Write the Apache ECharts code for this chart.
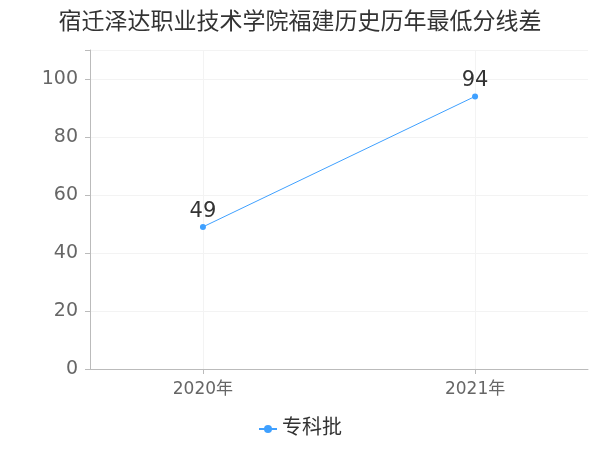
<!DOCTYPE html>
<html><head><meta charset="utf-8">
<script src="https://cdn.jsdelivr.net/npm/echarts@6/dist/echarts.min.js"></script>
<style>html,body{margin:0;padding:0}#c{width:600px;height:450px}</style>
</head><body><div id="c"></div>
<script>
const title = '宿迁泽达职业技术学院福建历史历年最低分线差';
const categories = ['2020年', '2021年'];
const seriesName = '专科批';
const values = [49, 94];
const chart = echarts.init(document.getElementById('c'));
chart.setOption({
  textStyle:{fontFamily:'DejaVu Sans, Noto Sans CJK SC'},
  title:{text:title,left:'center',top:4,textStyle:{fontSize:23,fontWeight:'normal',color:'#333',fontFamily:'Noto Sans CJK SC'}},
  grid:{left:90,right:12,top:50,bottom:81},
  legend:{bottom:6,left:'center',data:[seriesName],textStyle:{fontSize:20,color:'#333'},itemWidth:18,itemHeight:10},
  xAxis:{type:'value',min:-0.415,max:1.415,
    axisLine:{lineStyle:{color:'#bbb'}},
    axisTick:{customValues:[0,1],lineStyle:{color:'#bbb'}},
    axisLabel:{customValues:[0,1],formatter:v=>categories[Math.round(v)],fontSize:17,color:'#666',margin:12},
    splitLine:{show:true,lineStyle:{color:'#f3f3f3'}}},
  yAxis:{type:'value',min:0,max:110,interval:20,
    axisLine:{show:true,onZero:false,lineStyle:{color:'#bbb'}},
    axisTick:{show:true,lineStyle:{color:'#bbb'}},
    axisLabel:{fontSize:19,color:'#666',margin:12,formatter:v=>v>100?'':v},
    splitLine:{lineStyle:{color:'#f3f3f3'}}},
  series:[{name:seriesName,type:'line',data:values.map((v,i)=>[i,v]),
    color:'#3fa0ff',symbol:'circle',symbolSize:6,lineStyle:{width:1},
    label:{show:true,position:'top',fontSize:21,color:'#333',distance:2,formatter:p=>p.value[1]}}]
});
</script></body></html>
